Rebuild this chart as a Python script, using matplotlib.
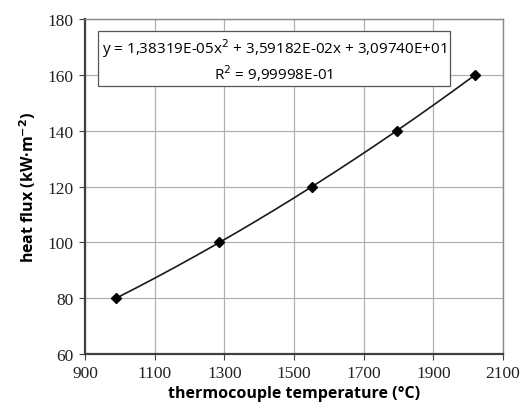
import numpy as np
import matplotlib
matplotlib.use("Agg")
import matplotlib.pyplot as plt

# measured points
temperature = [989, 1286, 1552, 1795, 2020]
heat_flux = [80, 100, 120, 140, 160]

x_ticks = [900, 1100, 1300, 1500, 1700, 1900, 2100]
y_ticks = [60, 80, 100, 120, 140, 160, 180]

equation = "y = 1,38319E-05x$^2$ + 3,59182E-02x + 3,09740E+01\nR$^2$ = 9,99998E-01"

fig = plt.figure(figsize=(5.25, 4.1), dpi=100)
ax = fig.add_axes([0.162, 0.134, 0.796, 0.817])

# 2nd order trendline through the measured points
coef = np.polyfit(temperature, heat_flux, 2)
xs = np.linspace(min(temperature), max(temperature), 200)
ax.plot(xs, np.polyval(coef, xs), color="#1a1a1a", lw=1.2, zorder=3)
ax.plot(temperature, heat_flux, ls="none", marker="D", ms=5, color="black", zorder=4)

ax.set_xlim(900, 2100)
ax.set_ylim(60, 180)
ax.set_xticks(x_ticks)
ax.set_yticks(y_ticks)
ax.grid(True, color="#b0b0b0", lw=0.9)
ax.set_axisbelow(True)

for side in ("top", "right"):
    ax.spines[side].set_color("#888888")
    ax.spines[side].set_linewidth(1.0)
for side in ("left", "bottom"):
    ax.spines[side].set_color("#404040")
    ax.spines[side].set_linewidth(1.6)

ax.tick_params(direction="out", length=4, color="#404040", labelsize=12.5, pad=4)
for lab in ax.get_xticklabels() + ax.get_yticklabels():
    lab.set_family("Liberation Serif")
    lab.set_color("#222222")

ax.set_xlabel("thermocouple temperature (°C)", fontsize=11.5, fontweight="bold",
              family="Open Sans", labelpad=3)
ax.set_ylabel("heat flux (kW·m$^{\\mathbf{-2}}$)", fontsize=11.5, fontweight="bold",
              family="Open Sans", labelpad=7)

ax.text(0.452, 0.879, equation, transform=ax.transAxes, ha="center", va="center",
        fontsize=11, family="Open Sans", linespacing=1.15,
        bbox=dict(boxstyle="square,pad=0.25", fc="white", ec="#555555", lw=0.9))

fig.savefig("out.png", dpi=100)
